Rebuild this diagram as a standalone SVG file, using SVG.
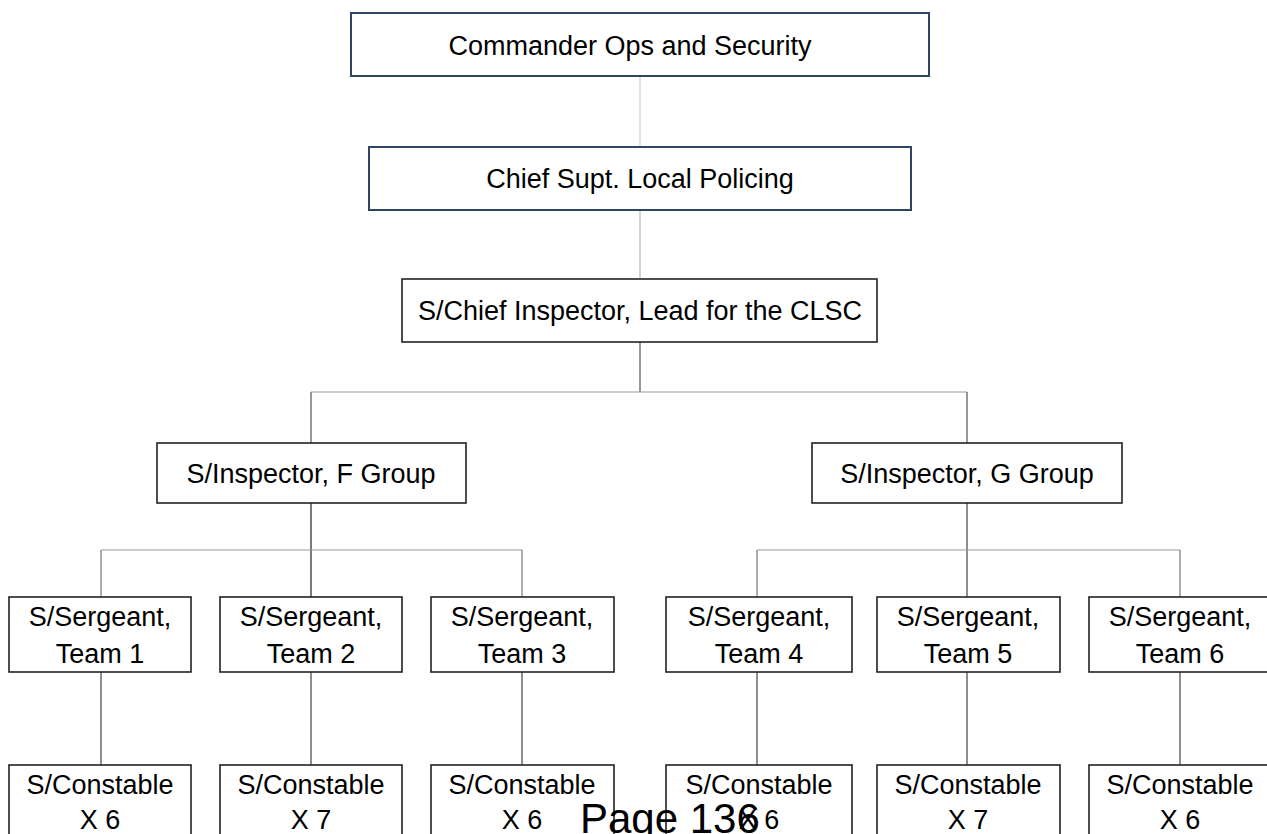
<svg xmlns="http://www.w3.org/2000/svg" width="1267" height="834" viewBox="0 0 1267 834">
<style>
.top{fill:#fff;stroke:#2F4562;stroke-width:2}
.box{fill:#fff;stroke:#222;stroke-width:1.6}
.t{font-family:"Liberation Sans",Arial,sans-serif;font-size:27px;fill:#000;text-anchor:middle}
.c{fill:none;stroke-width:1.2}
.page{font-family:"Liberation Sans",Arial,sans-serif;font-size:42px;fill:#000}
</style>
<rect width="1267" height="834" fill="#fff"/>
<g id="connectors">
<line class="c" x1="640" y1="76" x2="640" y2="147" stroke="#d0d0d0"/>
<line class="c" x1="640" y1="210" x2="640" y2="279" stroke="#b8b8b8"/>
<line class="c" x1="640" y1="342" x2="640" y2="392" stroke="#555"/>
<line class="c" x1="311" y1="392" x2="967" y2="392" stroke="#999"/>
<line class="c" x1="311" y1="392" x2="311" y2="443" stroke="#555"/>
<line class="c" x1="967" y1="392" x2="967" y2="443" stroke="#555"/>
<line class="c" x1="311" y1="503" x2="311" y2="597" stroke="#222"/>
<line class="c" x1="101" y1="550" x2="522" y2="550" stroke="#999"/>
<line class="c" x1="101" y1="550" x2="101" y2="597" stroke="#777"/>
<line class="c" x1="522" y1="550" x2="522" y2="597" stroke="#777"/>
<line class="c" x1="967" y1="503" x2="967" y2="597" stroke="#444"/>
<line class="c" x1="757" y1="550" x2="1180" y2="550" stroke="#999"/>
<line class="c" x1="757" y1="550" x2="757" y2="597" stroke="#777"/>
<line class="c" x1="1180" y1="550" x2="1180" y2="597" stroke="#777"/>
<line class="c" x1="101" y1="672" x2="101" y2="765" stroke="#444"/>
<line class="c" x1="311" y1="672" x2="311" y2="765" stroke="#444"/>
<line class="c" x1="522" y1="672" x2="522" y2="765" stroke="#444"/>
<line class="c" x1="757" y1="672" x2="757" y2="765" stroke="#444"/>
<line class="c" x1="967" y1="672" x2="967" y2="765" stroke="#444"/>
<line class="c" x1="1180" y1="672" x2="1180" y2="765" stroke="#444"/>
</g>
<g id="commander"><rect class="top" x="351" y="13" width="578" height="63"/><text class="t" x="630" y="55">Commander Ops and Security</text></g>
<g id="chief-supt"><rect class="top" x="369" y="147" width="542" height="63"/><text class="t" x="640" y="188">Chief Supt. Local Policing</text></g>
<g id="chief-inspector"><rect class="box" x="402" y="279" width="475" height="63"/><text class="t" x="640" y="320">S/Chief Inspector, Lead for the CLSC</text></g>
<g id="inspector-f"><rect class="box" x="157" y="443" width="309" height="60"/><text class="t" x="311" y="483">S/Inspector, F Group</text></g>
<g id="inspector-g"><rect class="box" x="812" y="443" width="310" height="60"/><text class="t" x="967" y="483">S/Inspector, G Group</text></g>
<g id="sergeant-1"><rect class="box" x="9" y="597" width="182" height="75"/><text class="t" x="100" y="626">S/Sergeant,</text><text class="t" x="100" y="663">Team 1</text></g>
<g id="sergeant-2"><rect class="box" x="220" y="597" width="182" height="75"/><text class="t" x="311" y="626">S/Sergeant,</text><text class="t" x="311" y="663">Team 2</text></g>
<g id="sergeant-3"><rect class="box" x="431" y="597" width="183" height="75"/><text class="t" x="522" y="626">S/Sergeant,</text><text class="t" x="522" y="663">Team 3</text></g>
<g id="sergeant-4"><rect class="box" x="666" y="597" width="186" height="75"/><text class="t" x="759" y="626">S/Sergeant,</text><text class="t" x="759" y="663">Team 4</text></g>
<g id="sergeant-5"><rect class="box" x="877" y="597" width="183" height="75"/><text class="t" x="968" y="626">S/Sergeant,</text><text class="t" x="968" y="663">Team 5</text></g>
<g id="sergeant-6"><rect class="box" x="1089" y="597" width="184" height="75"/><text class="t" x="1180" y="626">S/Sergeant,</text><text class="t" x="1180" y="663">Team 6</text></g>
<g id="constable-1"><rect class="box" x="9" y="765" width="182" height="80"/><text class="t" x="100" y="794">S/Constable</text><text class="t" x="100" y="829">X 6</text></g>
<g id="constable-2"><rect class="box" x="220" y="765" width="182" height="80"/><text class="t" x="311" y="794">S/Constable</text><text class="t" x="311" y="829">X 7</text></g>
<g id="constable-3"><rect class="box" x="431" y="765" width="183" height="80"/><text class="t" x="522" y="794">S/Constable</text><text class="t" x="522" y="829">X 6</text></g>
<g id="constable-4"><rect class="box" x="666" y="765" width="186" height="80"/><text class="t" x="759" y="794">S/Constable</text><text class="t" x="759" y="829">X 6</text></g>
<g id="constable-5"><rect class="box" x="877" y="765" width="183" height="80"/><text class="t" x="968" y="794">S/Constable</text><text class="t" x="968" y="829">X 7</text></g>
<g id="constable-6"><rect class="box" x="1089" y="765" width="184" height="80"/><text class="t" x="1180" y="794">S/Constable</text><text class="t" x="1180" y="829">X 6</text></g>
<text class="page" x="580" y="833">Page 136</text>
</svg>
